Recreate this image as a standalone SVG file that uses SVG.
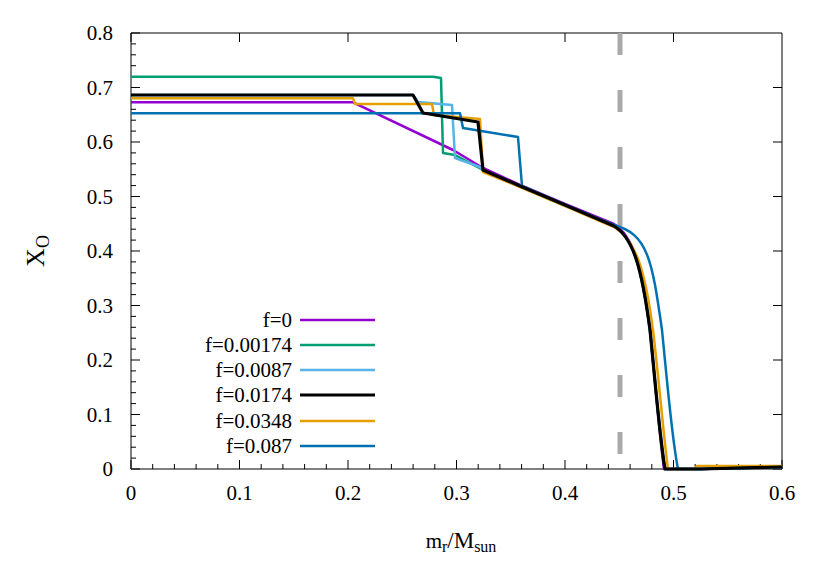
<svg xmlns="http://www.w3.org/2000/svg" width="830" height="581" viewBox="0 0 830 581" font-family="'Liberation Serif', 'Times New Roman', serif">
<style>
text{font-family:'Liberation Serif','DejaVu Serif',serif;font-size:21px;fill:#000}
.c{fill:none;stroke-width:2.5;stroke-linejoin:round}
.t{stroke:#000;stroke-width:1}
</style>
<rect width="830" height="581" fill="#fff"/>
<g id="axes">
<path class="t" fill="none" d="M131,33H782V469H131Z"/>
<path class="t" d="M131,469h9M131,414.5h9M131,360h9M131,305.5h9M131,251h9M131,196.5h9M131,142h9M131,87.5h9M131,33h9
M782,469h-9M782,414.5h-9M782,360h-9M782,305.5h-9M782,251h-9M782,196.5h-9M782,142h-9M782,87.5h-9
M131,469v-9M239.5,469v-9M348,469v-9M456.5,469v-9M565,469v-9M673.5,469v-9M782,469v-9
M131,33v9M239.5,33v9M348,33v9M456.5,33v9M565,33v9M673.5,33v9"/>
<path class="t" d="M131,458.1h5M131,447.2h5M131,436.3h5M131,425.4h5M131,403.6h5M131,392.7h5M131,381.8h5M131,370.9h5M131,349.1h5M131,338.2h5M131,327.3h5M131,316.4h5M131,294.6h5M131,283.7h5M131,272.8h5M131,261.9h5M131,240.1h5M131,229.2h5M131,218.3h5M131,207.4h5M131,185.6h5M131,174.7h5M131,163.8h5M131,152.9h5M131,131.1h5M131,120.2h5M131,109.3h5M131,98.4h5M131,76.6h5M131,65.7h5M131,54.8h5M131,43.9h5"/>
<path class="t" d="M152.7,469v-5M174.4,469v-5M196.1,469v-5M217.8,469v-5M261.2,469v-5M282.9,469v-5M304.6,469v-5M326.3,469v-5M369.7,469v-5M391.4,469v-5M413.1,469v-5M434.8,469v-5M478.2,469v-5M499.9,469v-5M521.6,469v-5M543.3,469v-5M586.7,469v-5M608.4,469v-5M630.1,469v-5M651.8,469v-5M695.2,469v-5M716.9,469v-5M738.6,469v-5M760.3,469v-5"/>
<g text-anchor="end">
<text x="113" y="476">0</text><text x="113" y="421.5">0.1</text><text x="113" y="367">0.2</text><text x="113" y="312.5">0.3</text><text x="113" y="258">0.4</text><text x="113" y="203.5">0.5</text><text x="113" y="149">0.6</text><text x="113" y="94.5">0.7</text><text x="113" y="40">0.8</text>
</g>
<g text-anchor="middle">
<text x="131" y="500">0</text><text x="239.5" y="500">0.1</text><text x="348" y="500">0.2</text><text x="456.5" y="500">0.3</text><text x="565" y="500">0.4</text><text x="673.5" y="500">0.5</text><text x="782" y="500">0.6</text>
<text x="461" y="548" font-size="23">m<tspan font-size="16" dy="4">r</tspan><tspan dy="-4" font-size="23">/M</tspan><tspan font-size="16" dy="4">sun</tspan></text>
</g>
<text transform="translate(44,251) rotate(-90)" text-anchor="middle" font-size="26" style="font-size:26px">X<tspan font-size="18" style="font-size:18px" dy="5">O</tspan></text>
</g>
<g id="connectors">
<line x1="620" y1="33" x2="620" y2="469" stroke="#aaa" stroke-width="5" stroke-dasharray="22,35"/>
<path class="c" stroke="#9400d3" d="M131,102.3H353L453,150L483,168L520,185L565,204L614,224C634,236 642,270 650,330C656,390 660,440 664,469H700L782,467"/>
<path class="c" stroke="#009e73" d="M131,76.7H433L441,78L443,153L455,155L483,170L520,186L565,205L614,226C634,238 642,270 650,330C656,390 660,440 665,469H700L782,467"/>
<path class="c" stroke="#56b4e9" d="M131,95H413L418,102L452,105L455,158L480,167L483,171L520,186L565,205L614,226C634,238 642,270 650,330C656,390 660,440 665,469H700L782,467"/>
<path class="c" stroke="#e69f00" d="M131,98.3H353L355,104H432L434,115L480,119L483,172L520,187L565,206L614,227C636,240 645,270 653,330C660,390 664,440 668,469H695L697,466H782"/>
<path class="c" stroke="#0072b2" d="M131,113.3H460L463,128L518,137L522,186L565,205L614,225C648,234 652,260 662,330C668,390 672,440 678,469H700L782,467"/>
<path fill="none" stroke="#000" stroke-width="3.2" stroke-linejoin="round" d="M131,95H413L423,113L478,122L483,170L520,186L565,205L614,226C634,238 642,270 650,330C656,390 660,440 665,469H700L782,467"/>
</g>
<g id="legend" text-anchor="end">
<text x="292" y="327">f=0</text><line x1="300" y1="320" x2="375" y2="320" stroke="#9400d3" stroke-width="2.5"/>
<text x="292" y="352">f=0.00174</text><line x1="300" y1="345" x2="375" y2="345" stroke="#009e73" stroke-width="2.5"/>
<text x="292" y="377">f=0.0087</text><line x1="300" y1="370" x2="375" y2="370" stroke="#56b4e9" stroke-width="2.5"/>
<text x="292" y="402">f=0.0174</text><line x1="300" y1="395" x2="375" y2="395" stroke="#000" stroke-width="3.2"/>
<text x="292" y="428">f=0.0348</text><line x1="300" y1="421" x2="375" y2="421" stroke="#e69f00" stroke-width="2.5"/>
<text x="292" y="453">f=0.087</text><line x1="300" y1="446" x2="375" y2="446" stroke="#0072b2" stroke-width="2.5"/>
</g>
</svg>
